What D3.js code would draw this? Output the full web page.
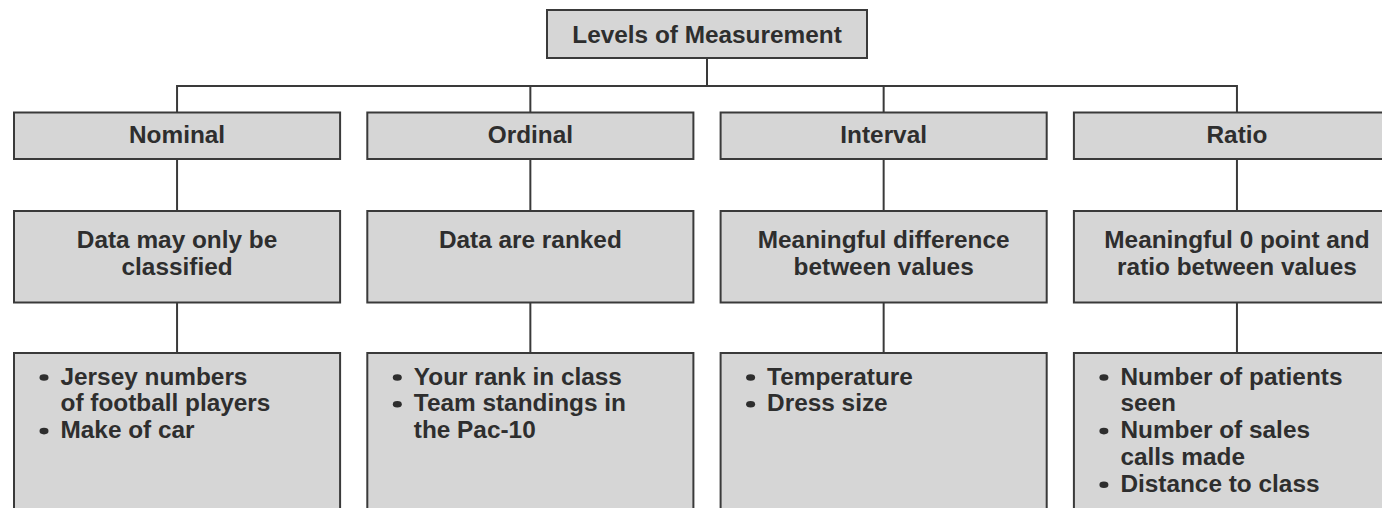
<!DOCTYPE html>
<html>
<head>
<meta charset="utf-8">
<script src="https://cdn.jsdelivr.net/npm/d3@7"></script>
<style>
    body { margin: 0; background: #fff; }
    svg { display: block; }
    text { font-family: "Liberation Sans", Arial, sans-serif; font-weight: bold; font-size: 23px; fill: #2e2e2e; }
</style>
</head>
<body>
<script>
// chart text
const title = "Levels of Measurement";
const categories = ["Nominal", "Ordinal", "Interval", "Ratio"];
const descriptions = [
    ["Data may only be", "classified"],
    ["Data are ranked"],
    ["Meaningful difference", "between values"],
    ["Meaningful 0 point and", "ratio between values"]
];
const examples = [
    [["Jersey numbers", "of football players"], ["Make of car"]],
    [["Your rank in class"], ["Team standings in", "the Pac-10"]],
    [["Temperature"], ["Dress size"]],
    [["Number of patients", "seen"], ["Number of sales", "calls made"], ["Distance to class"]]
];

(function () {
    const width = 1382, height = 508;

    // box layout per depth
    const levels = [
        { top: 10, height: 48, base: 33 },
        { top: 112.5, height: 46.5, base: 30.5 },
        { top: 211, height: 91.5, base: 37 },
        { top: 353, height: 180, base: 31.5 }
    ];
    const lineH = 26.8;
    const stretch = 1.06;
    const rootBox = { cx: 707, width: 320 };
    const busY = 86;

    // tree data
    const data = {
        name: title, lines: [title],
        children: categories.map((c, i) => ({
            name: c, cat: c, lines: [c],
            children: [{
                cat: c, lines: descriptions[i],
                children: [{ cat: c, bullets: examples[i] }]
            }]
        }))
    };
    const root = d3.hierarchy(data);

    const x = d3.scaleBand()
        .domain(categories)
        .range([14, 1400])
        .paddingInner(0.077)
        .paddingOuter(0);

    const y = d3.scaleOrdinal()
        .domain(d3.range(levels.length))
        .range(levels.map(l => l.top));

    // positions
    root.each(d => {
        if (d.depth === 0) {
            d.x0 = rootBox.cx - rootBox.width / 2;
            d.w = rootBox.width;
        } else {
            d.x0 = x(d.data.cat);
            d.w = x.bandwidth();
        }
        d.cx = d.x0 + d.w / 2;
        d.y0 = y(d.depth);
        d.h = levels[d.depth].height;
    });

    const svg = d3.select("body").append("svg").attr("width", width).attr("height", height);
    const g = svg.append("g");

    // connectors
    g.selectAll(".link")
        .data(root.links())
        .enter()
        .append("path")
        .attr("class", "link")
        .attr("fill", "none")
        .attr("stroke", "#3a3a3a")
        .attr("stroke-width", 2)
        .attr("d", l => {
            const s = l.source, t = l.target;
            if (s.depth === 0) {
                return "M" + s.cx + "," + (s.y0 + s.h) + "V" + busY + "H" + t.cx + "V" + t.y0;
            }
            return "M" + t.cx + "," + (s.y0 + s.h) + "V" + t.y0;
        });

    // boxes
    const node = g.selectAll(".node")
        .data(root.descendants())
        .enter()
        .append("g")
        .attr("class", "node")
        .attr("transform", d => "translate(" + d.x0 + "," + d.y0 + ")");

    node.append("rect")
        .attr("width", d => d.w)
        .attr("height", d => d.h)
        .attr("fill", "#d6d6d6")
        .attr("stroke", "#3a3a3a")
        .attr("stroke-width", 2);

    // centred labels
    node.filter(d => d.data.lines)
        .each(function (d) {
            const base = levels[d.depth].base;
            d3.select(this).selectAll(".lbl")
                .data(d.data.lines)
                .enter()
                .append("g")
                .attr("class", "lbl")
                .attr("transform", (s, i) => "translate(" + d.w / 2 + "," + (base + i * 27) + ") scale(" + stretch + ",1)")
                .append("text")
                .attr("text-anchor", "middle")
                .text(s => s);
        });

    // bullet lists
    node.filter(d => d.data.bullets)
        .each(function (d) {
            const base = levels[d.depth].base;
            const rows = [];
            d.data.bullets.forEach(item => {
                item.forEach((s, j) => rows.push({ text: s, first: j === 0 }));
            });
            const row = d3.select(this).selectAll(".row")
                .data(rows)
                .enter()
                .append("g")
                .attr("class", "row")
                .attr("transform", (r, i) => "translate(0," + (base + i * lineH) + ")");

            row.filter(r => r.first)
                .append("ellipse")
                .attr("cx", 30)
                .attr("cy", -7)
                .attr("rx", 4.5)
                .attr("ry", 3.3)
                .attr("fill", "#2e2e2e");

            row.append("g")
                .attr("transform", "translate(46.5,0) scale(" + stretch + ",1)")
                .append("text")
                .text(r => r.text);
        });
})();
</script>
</body>
</html>
